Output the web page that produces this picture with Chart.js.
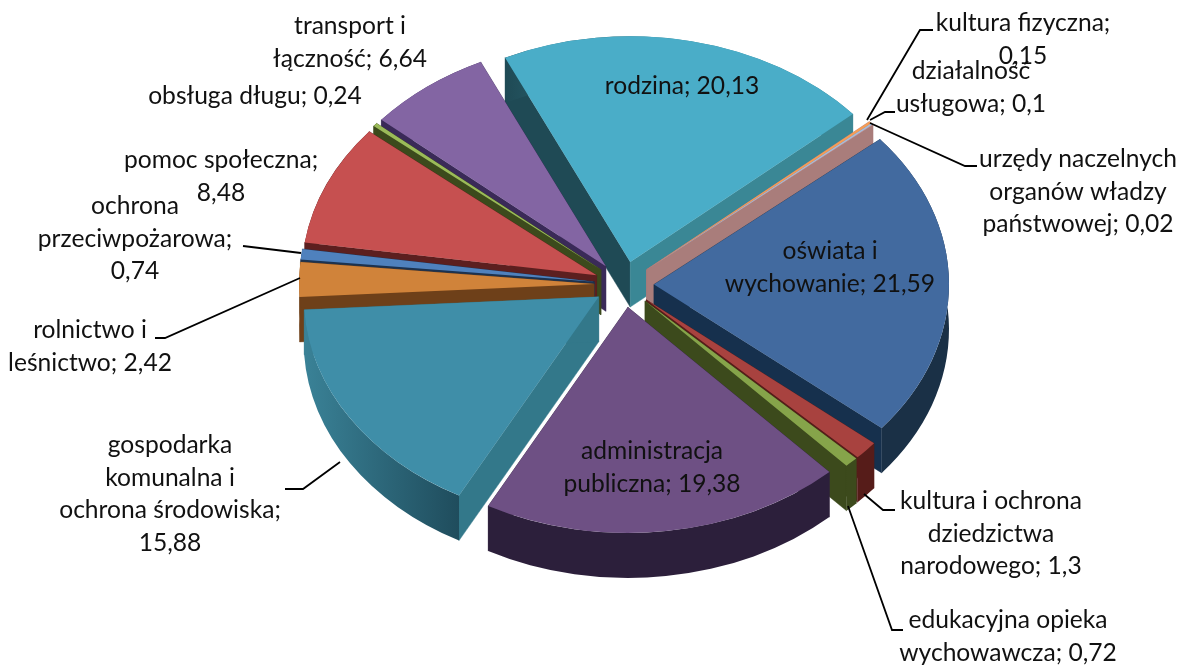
<!DOCTYPE html>
<html lang="pl"><head><meta charset="utf-8"><title>Wydatki</title>
<style>html,body{margin:0;padding:0;background:#fff}canvas{display:block}</style>
<script src="https://cdn.jsdelivr.net/npm/chart.js@4"></script></head>
<body><canvas id="c" width="1186" height="669"></canvas>
<script>
const categories = ['oświata i wychowanie','kultura i ochrona dziedzictwa narodowego','edukacyjna opieka wychowawcza','administracja publiczna','gospodarka komunalna i ochrona środowiska','rolnictwo i leśnictwo','ochrona przeciwpożarowa','pomoc społeczna','obsługa długu','transport i łączność','rodzina','kultura fizyczna','działalność usługowa','urzędy naczelnych organów władzy państwowej'];
const values = [21.59,1.3,0.72,19.38,15.88,2.42,0.74,8.48,0.24,6.64,20.13,0.15,0.1,0.02];
const labelTemplates = ['oświata i|wychowanie; {v}','kultura i ochrona|dziedzictwa|narodowego; {v}','edukacyjna opieka|wychowawcza; {v}','administracja|publiczna; {v}','gospodarka|komunalna i|ochrona środowiska;|{v}','rolnictwo i|leśnictwo; {v}','ochrona|przeciwpożarowa;|{v}','pomoc społeczna;|{v}','obsługa długu; {v}','transport i|łączność; {v}','rodzina; {v}','kultura fizyczna;|{v}','działalność|usługowa; {v}','urzędy naczelnych|organów władzy|państwowej; {v}'];
const topColors = ['#426a9f','#a8423f','#86a44a','#6e5084','#3f8ea8','#d0833a','#4f81bd','#c65050','#9bbb59','#8365a3','#4aadc8','#f59d56','#a5bfdd','#d9a0a0'];
const startWall = ['#1a3350','#561c19','#3c4a1c','#30213f','#33788a','#6e4019','#1b3250','#5c1f1f','#3c4a1c','#3a2a58','#1f4a55','#a97d7b','#a97d7b','#a97d7b'];
const endWall   = ['#16304d','#561c19','#3c4a1c','#30213f','#33788a','#6e4019','#1b3250','#5c1f1f','#3c4a1c','#3a2a58','#3a8795','#a97d7b','#a97d7b','#a97d7b'];
const rimLeft   = ['#1a3046','#561c19','#3c4a1c','#2c1f3b','#3a8297','#6e4019','#1b3250','#5c1f1f','#3c4a1c','#3a2a58','#1f4a55','#a97d7b','#a97d7b','#a97d7b'];
const rimRight  = ['#1a3046','#561c19','#3c4a1c','#2c1f3b','#1e4a5a','#6e4019','#1b3250','#5c1f1f','#3c4a1c','#3a2a58','#3a8795','#a97d7b','#a97d7b','#a97d7b'];
const labelAt = [[830,251],[991,501],[1008,620],[652,451],[170,445],[90,330],[135,206],[221,160],[255,96],[350,26],[682,86],[1023,23],[971,71],[1078,159]];
const leaders = [null,[[864,494],[883,510],[895,510]],[[848,506],[892,630],[903,630]],null,[[340,462],[303,489],[285,489]],[[300,278],[165,338],[155,338]],[[301,253],[243,246]],null,null,null,null,[[867,120],[920,30],[933,30]],[[870,120],[885,112],[895,112]],[[870,123],[965,166],[977,166]]];

const SQUASH = 0.765, DEPTH = 45, EXPLODE = 30, RADIUS = 295, LINE = 32.6;
const CY_IN = 283, CY_OUT = 284.5;

const pie3d = {
  id: 'pie3d',
  afterDatasetsUpdate(chart) {
    const a = chart.chartArea, cx = (a.left + a.right) / 2, cy = (a.top + a.bottom) / 2;
    chart.getDatasetMeta(0).data.forEach(el => {
      const mid = (el.startAngle + el.endAngle) / 2;
      el.x = cx + Math.cos(mid) * EXPLODE;
      el.y = cy + Math.sin(mid) * EXPLODE;
    });
  },
  beforeDatasetsDraw(chart) {
    const ctx = chart.ctx, d = DEPTH / SQUASH;
    ctx.save();
    ctx.translate(0, CY_OUT); ctx.scale(1, SQUASH); ctx.translate(0, -CY_IN);
    const arcs = chart.getDatasetMeta(0).data.map((el, i) => ({el, i}));
    arcs.sort((p, q) => (p.el.y + Math.sin((p.el.startAngle + p.el.endAngle) / 2) * RADIUS / 2) - (q.el.y + Math.sin((q.el.startAngle + q.el.endAngle) / 2) * RADIUS / 2));
    arcs.forEach(({el, i}) => {
      const {x, y, startAngle: a0, endAngle: a1, outerRadius: r} = el;
      const quad = (ang, col) => {
        ctx.beginPath(); ctx.moveTo(x, y); ctx.lineTo(x + r * Math.cos(ang), y + r * Math.sin(ang));
        ctx.lineTo(x + r * Math.cos(ang), y + d + r * Math.sin(ang)); ctx.lineTo(x, y + d); ctx.closePath();
        ctx.fillStyle = col; ctx.fill(); ctx.strokeStyle = col; ctx.lineWidth = 0.5; ctx.stroke();
      };
      quad(a0, startWall[i]); quad(a1, endWall[i]);
      ctx.beginPath(); ctx.arc(x, y, r, a0, a1); ctx.arc(x, y + d, r, a1, a0, true); ctx.closePath();
      const left = x + r * Math.min(Math.cos(a0), Math.cos(a1));
      const g = ctx.createLinearGradient(left, 0, left + r * 0.55, 0);
      g.addColorStop(0, rimLeft[i]); g.addColorStop(1, rimRight[i]);
      ctx.fillStyle = g; ctx.fill();
    });
  },
  afterDatasetsDraw(chart) {
    const ctx = chart.ctx;
    ctx.restore();
    ctx.save();
    ctx.strokeStyle = '#000'; ctx.lineWidth = 1.8; ctx.lineJoin = 'miter';
    leaders.forEach(pts => {
      if (!pts) return;
      ctx.beginPath(); pts.forEach((p, k) => k ? ctx.lineTo(p[0], p[1]) : ctx.moveTo(p[0], p[1])); ctx.stroke();
    });
    ctx.fillStyle = '#111'; ctx.font = '24.6px Lato'; ctx.textAlign = 'center'; ctx.textBaseline = 'middle';
    labelTemplates.forEach((t, i) => {
      const txt = t.replace('{v}', String(values[i]).replace('.', ','));
      txt.split('|').forEach((line, k) => ctx.fillText(line, labelAt[i][0], labelAt[i][1] + k * LINE));
    });
    ctx.restore();
  }
};

new Chart(document.getElementById('c'), {
  type: 'pie',
  data: { labels: categories, datasets: [{ data: values, backgroundColor: topColors, borderWidth: 0, clip: false, radius: RADIUS, hoverOffset: 0 }] },
  options: {
    responsive: false, animation: false, rotation: 50,
    layout: { padding: { left: 62, right: 0, top: 0, bottom: 103 } },
    plugins: { legend: { display: false }, tooltip: { enabled: false }, title: { display: false } },
    events: []
  },
  plugins: [pie3d]
});
</script></body></html>
